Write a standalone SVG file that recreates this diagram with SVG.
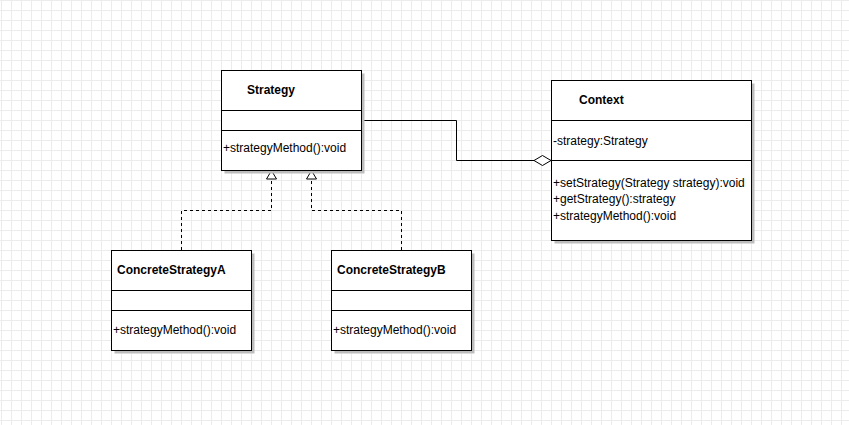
<svg xmlns="http://www.w3.org/2000/svg" width="849" height="425" viewBox="0 0 849 425">
  <defs>
    <pattern id="grid" x="0" y="0" width="10" height="10" patternUnits="userSpaceOnUse">
      <path d="M1.5 0 V10 M0 0.5 H10" fill="none" stroke="#ececec" stroke-width="1"/>
    </pattern>
    <style>
      .box { fill: #ffffff; stroke: #000000; stroke-width: 1; }
      .shadow { fill: #bdbdbd; stroke: none; }
      .div { stroke: #000000; stroke-width: 1; fill: none; }
      .title { font-family: "Liberation Sans", Arial, sans-serif; font-size: 12px; font-weight: bold; fill: #000; }
      .txt { font-family: "Liberation Sans", Arial, sans-serif; font-size: 12px; fill: #000; }
      .edge { fill: none; stroke: #000; stroke-width: 1; }
      .dashed { stroke-dasharray: 3 3; }
      .head { fill: #fff; stroke: #000; stroke-width: 1; }
    </style>
  </defs>
  <rect width="849" height="425" fill="#ffffff"/>
  <rect width="849" height="425" fill="url(#grid)"/>

  <g id="connectors">
    <path class="edge" d="M361.5 120.5 H456.5 V160.5 H534"/>
    <path class="head" d="M534 160.5 L542.5 155.5 L551 160.5 L542.5 165.5 Z"/>
    <path class="edge dashed" d="M181.5 250 V210.5 H271.5 V179"/>
    <path class="head" d="M271.5 170.5 L276.5 179 L266.5 179 Z"/>
    <path class="edge dashed" d="M401.5 250 V210.5 H311.5 V179"/>
    <path class="head" d="M311.5 170.5 L316.5 179 L306.5 179 Z"/>
  </g>

  <g id="strategy">
    <rect class="shadow" x="224.5" y="73.5" width="140" height="100"/>
    <rect class="box" x="221.5" y="70.5" width="140" height="100"/>
    <path class="div" d="M221.5 110.5 H361.5 M221.5 130.5 H361.5"/>
    <text class="title" x="247" y="94">Strategy</text>
    <text class="txt" x="223" y="152">+strategyMethod():void</text>
  </g>

  <g id="context">
    <rect class="shadow" x="554.5" y="83.5" width="200" height="160"/>
    <rect class="box" x="551.5" y="80.5" width="200" height="160"/>
    <path class="div" d="M551.5 120.5 H751.5 M551.5 160.5 H751.5"/>
    <text class="title" x="579" y="103.5">Context</text>
    <text class="txt" x="553" y="144.5">-strategy:Strategy</text>
    <text class="txt" x="553" y="186.5">+setStrategy(Strategy strategy):void</text>
    <text class="txt" x="553" y="203">+getStrategy():strategy</text>
    <text class="txt" x="553" y="219.5">+strategyMethod():void</text>
  </g>

  <g id="concreteStrategyA">
    <rect class="shadow" x="114.5" y="253.5" width="140" height="100"/>
    <rect class="box" x="111.5" y="250.5" width="140" height="100"/>
    <path class="div" d="M111.5 290.5 H251.5 M111.5 310.5 H251.5"/>
    <text class="title" x="117" y="273.5">ConcreteStrategyA</text>
    <text class="txt" x="113" y="333.5">+strategyMethod():void</text>
  </g>

  <g id="concreteStrategyB">
    <rect class="shadow" x="334.5" y="253.5" width="140" height="100"/>
    <rect class="box" x="331.5" y="250.5" width="140" height="100"/>
    <path class="div" d="M331.5 290.5 H471.5 M331.5 310.5 H471.5"/>
    <text class="title" x="337" y="273.5">ConcreteStrategyB</text>
    <text class="txt" x="333" y="333.5">+strategyMethod():void</text>
  </g>
</svg>
